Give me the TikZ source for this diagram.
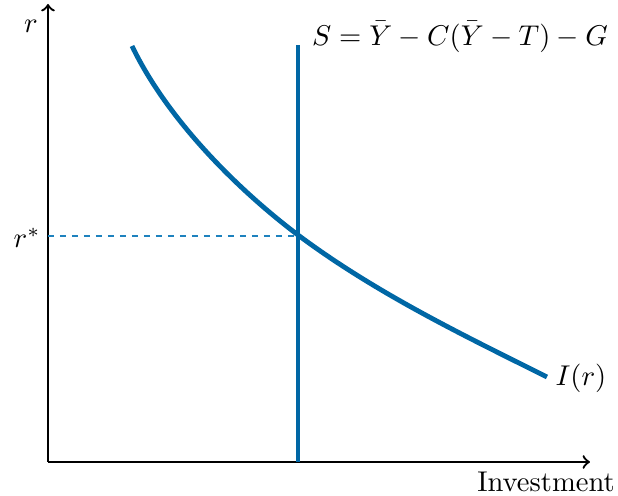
\documentclass[tikz,border=0pt]{standalone}
\definecolor{curveblue}{RGB}{0,103,165}
\definecolor{guideblue}{RGB}{30,130,190}
\tikzset{
  axis/.style={thick,->},
  bluecurve/.style={curveblue,line width=1.7pt},
  guide/.style={guideblue,line width=0.5pt,dash pattern=on 2pt off 2.2pt}
}
\begin{document}
\begin{tikzpicture}[x=0.350pt,y=-0.350pt]
\useasboundingbox (0,0) rectangle (618,496);
\coordinate (O) at (48,462);
\coordinate (ytop) at (48,4);
\coordinate (xend) at (590,462);
\coordinate (eq) at (298,235);
\coordinate (ystar) at (48,236);
\coordinate (eqd) at (298,236);
\coordinate (stop) at (298,45);
\coordinate (sbot) at (298,462);
\coordinate (cstart) at (132,46);
\coordinate (cend) at (547,377);
\draw[axis] (O) -- (ytop);
\draw[axis] (O) -- (xend);
\node (rlab) at (31,26) {$r$};
\node (rstar) at (27,238) {$r^*$};
\node (inv) at (546,482) {Investment};
\draw[guide] (ystar) -- (eqd);
\draw[bluecurve] (sbot) -- (stop);
\draw[bluecurve] (cstart) .. controls (167,119) and (237,189) .. (eq)
  .. controls (377,294) and (467,337) .. (cend);
\node[anchor=west] (slab) at (302,37) {$S=\bar{Y}-C(\bar{Y}-T)-G$};
\node (ilab) at (581,378) {$I(r)$};
\end{tikzpicture}
\end{document}
